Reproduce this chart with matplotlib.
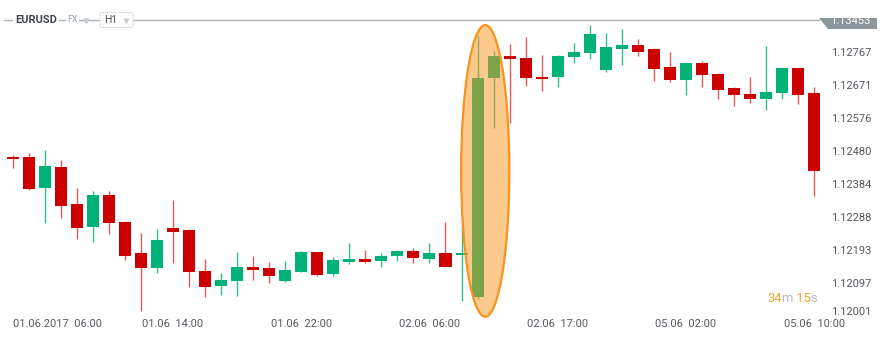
import numpy as np
import matplotlib.pyplot as plt
from matplotlib.patches import Ellipse, Polygon, FancyBboxPatch
from matplotlib.transforms import Affine2D, blended_transform_factory

plt.rcParams['font.family'] = ['Roboto', 'DejaVu Sans']

## EURUSD H1 candles (oldest first)
opens = [1.12463, 1.12463, 1.12372, 1.12433, 1.12325, 1.12259, 1.12352, 1.12275, 1.12185, 1.12142,
         1.12258, 1.12252, 1.12133, 1.12089, 1.12103, 1.12143, 1.12141, 1.12103, 1.12130, 1.12187,
         1.12123, 1.12158, 1.12167, 1.12161, 1.12177, 1.12191, 1.12168, 1.12184, 1.12178, 1.12056,
         1.12690, 1.12755, 1.12750, 1.12695, 1.12693, 1.12751, 1.12762, 1.12714, 1.12776, 1.12786,
         1.12775, 1.12723, 1.12686, 1.12733, 1.12702, 1.12661, 1.12645, 1.12629, 1.12647, 1.12719,
         1.12647]
highs = [1.12469, 1.12473, 1.12483, 1.12454, 1.12372, 1.12364, 1.12364, 1.12278, 1.12242, 1.12254,
         1.12338, 1.12253, 1.12166, 1.12128, 1.12188, 1.12175, 1.12158, 1.12161, 1.12189, 1.12188,
         1.12174, 1.12214, 1.12193, 1.12184, 1.12193, 1.12200, 1.12213, 1.12274, 1.12263, 1.12815,
         1.12769, 1.12789, 1.12809, 1.12757, 1.12757, 1.12791, 1.12844, 1.12820, 1.12833, 1.12803,
         1.12777, 1.12767, 1.12734, 1.12741, 1.12706, 1.12666, 1.12695, 1.12784, 1.12719, 1.12719,
         1.12666]
lows = [1.12430, 1.12368, 1.12272, 1.12287, 1.12225, 1.12217, 1.12239, 1.12164, 1.12018, 1.12128,
        1.12157, 1.12085, 1.12058, 1.12064, 1.12061, 1.12106, 1.12098, 1.12101, 1.12129, 1.12117,
        1.12117, 1.12152, 1.12155, 1.12145, 1.12161, 1.12157, 1.12155, 1.12144, 1.12046, 1.12051,
        1.12545, 1.12560, 1.12668, 1.12653, 1.12666, 1.12733, 1.12745, 1.12709, 1.12729, 1.12755,
        1.12683, 1.12680, 1.12642, 1.12664, 1.12629, 1.12610, 1.12619, 1.12598, 1.12629, 1.12615,
        1.12350]
closes = [1.12457, 1.12370, 1.12436, 1.12321, 1.12256, 1.12352, 1.12270, 1.12176, 1.12140, 1.12222,
          1.12244, 1.12129, 1.12086, 1.12106, 1.12144, 1.12136, 1.12117, 1.12136, 1.12187, 1.12120,
          1.12163, 1.12166, 1.12158, 1.12177, 1.12191, 1.12170, 1.12184, 1.12145, 1.12184, 1.12690,
          1.12755, 1.12746, 1.12690, 1.12688, 1.12755, 1.12767, 1.12817, 1.12781, 1.12786, 1.12765,
          1.12717, 1.12686, 1.12733, 1.12700, 1.12656, 1.12642, 1.12629, 1.12650, 1.12719, 1.12642,
          1.12423]

y_ticks = [1.12767, 1.12671, 1.12576, 1.12480, 1.12384, 1.12288, 1.12193, 1.12097, 1.12001]
y_tick_labels = ["1.12767", "1.12671", "1.12576", "1.12480", "1.12384",
                 "1.12288", "1.12193", "1.12097", "1.12001"]
x_tick_idx = [2, 10, 18, 26, 34, 42, 50]
x_tick_labels = ["01.06.2017  06:00", "01.06  14:00", "01.06  22:00", "02.06  06:00",
                 "02.06  17:00", "05.06  02:00", "05.06  10:00"]
symbol = "EURUSD"
last_price = "1.13453"
timer = ["34", "m", " 15", "s"]

GREEN = "#00b277"
RED = "#cc0000"
GREEN_WICK = "#2fc08e"
RED_WICK = "#e05a5a"
ORANGE = "#f7a12c"
TXT = "#555a5f"

W, H = 890, 343
fig = plt.figure(figsize=(W / 100, H / 100), dpi=100)
ax = fig.add_axes([0, 0, 1, 1])
ax.set_xlim(-0.792, 54.73)
ax.set_ylim(1.119241, 1.129166)
ax.set_axis_off()

# pixel coords, origin top left, for the header bits
pix = Affine2D().scale(1 / W, -1 / H).translate(0, 1) + fig.transFigure

## candles
idx = np.arange(len(opens))
o = np.array(opens)
c = np.array(closes)
up = c >= o
ax.vlines(idx, lows, highs, colors=np.where(up, GREEN_WICK, RED_WICK), lw=1.0, zorder=2)
ax.bar(idx, np.abs(c - o), bottom=np.minimum(o, c), width=0.75,
       color=np.where(up, GREEN, RED), lw=0, zorder=3)

# orange ellipse round the big candle
ax.add_patch(Ellipse((29.48, 1.12422), 3.01, 0.00844, fc=(0.98, 0.59, 0.10, 0.5),
                     ec="#f7931e", lw=1.6, zorder=4))

## price labels on the right, inside the plot
ytr = blended_transform_factory(pix, ax.transData)
for k, (p, lab) in enumerate(zip(y_ticks, y_tick_labels)):
    # lowest one is lifted a bit so it clears the time labels
    dy = 5 if k == len(y_ticks) - 1 else 0
    ax.annotate(lab, xy=(831, p), xycoords=ytr, xytext=(0, dy), textcoords="offset pixels",
                ha="left", va="center_baseline", fontsize=8, color=TXT)

## time labels
xtr = blended_transform_factory(ax.transData, pix)
for i, (k, lab) in enumerate(zip(x_tick_idx, x_tick_labels)):
    if i == 0:
        # first one is pushed right so it stays inside the chart
        ax.text(0, 324, lab, transform=xtr, ha="left", va="center", fontsize=8, color=TXT)
    else:
        ax.text(k, 324, lab, transform=xtr, ha="center", va="center", fontsize=8, color=TXT)

## header line with symbol / timeframe
ax.plot([4, 819], [20, 20], transform=pix, color="#a9b1b6", lw=1.0, clip_on=False, zorder=5)
ax.text(15, 20, symbol, transform=pix, ha="left", va="center", fontsize=8, fontweight="bold",
        color="#3c4650", bbox=dict(fc="white", ec="none", pad=1.2), zorder=6)
ax.text(67, 20, "FX", transform=pix, ha="left", va="center", fontsize=6.3, color="#8fa3b3",
        bbox=dict(fc="white", ec="none", pad=0.8), zorder=6)
ax.plot([86], [20.5], transform=pix, marker="v", ms=4, color="#c3c9ce", mec="none",
        clip_on=False, zorder=6)
ax.add_patch(FancyBboxPatch((100, 12.5), 33, 15, boxstyle="round,pad=0,rounding_size=2",
                            transform=pix, fc="white", ec="#dde1e4", lw=0.8, zorder=6))
ax.text(104, 20.3, "H1", transform=pix, ha="left", va="center", fontsize=7.5, color="#4a4f55",
        zorder=7)
ax.plot([125.5], [20.5], transform=pix, marker="v", ms=4, color="#c8cdd2", mec="none",
        clip_on=False, zorder=7)

# last price tag, partly hidden at the top
ax.add_patch(Polygon([(819, 18), (877, 18), (877, 28.5), (828, 28.5)], closed=True,
                     transform=pix, fc="#8c969c", ec="none", zorder=6))
ax.text(850, 21.5, last_price, transform=pix, ha="center", va="center", fontsize=8,
        color="white", zorder=7)

## candle countdown
t = ax.text(767, 298, timer[0], transform=pix, ha="left", va="center", fontsize=9.3, color=ORANGE)
for k, part in enumerate(timer[1:]):
    col = ORANGE if k % 2 == 1 else "#b8b8b8"
    t = ax.annotate(part, xy=(1, 0), xycoords=t, ha="left", va="bottom", fontsize=9.3, color=col)

fig.savefig("out.png", dpi=100)
